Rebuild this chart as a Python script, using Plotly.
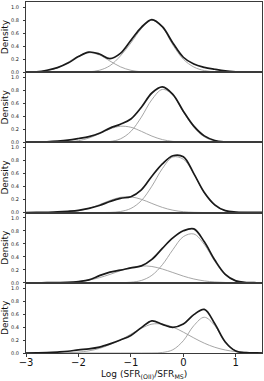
import plotly.graph_objects as go
from plotly.subplots import make_subplots

X = [-3.0, -2.8, -2.6, -2.4, -2.2, -2.0, -1.8, -1.6, -1.4, -1.2, -1.0, -0.8,
     -0.6, -0.4, -0.2, 0.0, 0.2, 0.4, 0.6, 0.8, 1.0, 1.2, 1.4, 1.5]

black1 = [0.0, .006, .03, .07, .14, .24, .31, .28, .21, .29, .49, .69, .81, .70, .45, .23, .125, .075, .045, .02, .007, .001, 0, 0]
greyA1 = [.001, .005, .023, .068, .152, .249, .30, .265, .172, .083, .029, .007, .002, 0, 0, 0, 0, 0, 0, 0, 0, 0, 0, 0]
greyB1 = [0, 0, 0, 0, 0, .001, .006, .03, .10, .25, .45, .67, .80, .69, .42, .20, .08, .025, .006, .001, 0, 0, 0, 0]

black2 = [0, .004, .01, .02, .035, .06, .09, .14, .22, .28, .36, .54, .76, .855, .74, .48, .25, .10, .03, .008, .002, 0, 0, 0]
greyA2 = [0, 0, 0, .002, .008, .026, .067, .133, .206, .248, .233, .170, .097, .043, .015, .004, .001, 0, 0, 0, 0, 0, 0, 0]
greyB2 = [0, 0, 0, 0, 0, 0, 0, .002, .013, .054, .169, .389, .658, .815, .73, .47, .235, .085, .022, .005, .001, 0, 0, 0]

black3 = [0, .002, .005, .01, .02, .035, .065, .11, .17, .22, .245, .35, .56, .75, .875, .86, .60, .31, .12, .03, .008, .005, .004, .004]
greyA3 = [0, 0, .001, .003, .010, .028, .065, .122, .187, .235, .242, .204, .141, .080, .037, .014, .004, .001, 0, 0, 0, 0, 0, 0]
greyB3 = [0, 0, 0, 0, 0, 0, 0, 0, .003, .017, .064, .185, .406, .677, .855, .821, .598, .30, .11, .03, .008, .002, 0, 0]

black4 = [0, 0, .002, .004, .008, .02, .045, .11, .165, .195, .23, .26, .36, .53, .69, .80, .83, .63, .35, .13, .03, .005, .001, 0]
greyA4 = [0, 0, .001, .003, .008, .020, .042, .079, .129, .186, .235, .259, .251, .212, .158, .103, .059, .029, .013, .005, .002, 0, 0, 0]
greyB4 = [0, 0, 0, 0, 0, 0, 0, 0, 0, .002, .009, .036, .115, .278, .509, .71, .751, .59, .33, .12, .03, .005, .001, 0]

black5 = [0, .002, .006, .015, .027, .048, .063, .09, .14, .20, .27, .39, .495, .44, .395, .445, .59, .67, .45, .17, .03, .005, .001, 0]
greyA5 = [0, 0, 0, .002, .005, .014, .033, .07, .129, .20, .29, .38, .444, .444, .399, .321, .232, .151, .088, .046, .021, .009, .003, .002]
greyB5 = [0, 0, 0, 0, 0, 0, 0, 0, 0, 0, 0, 0, .001, .008, .05, .189, .421, .55, .421, .16, .035, .006, .001, 0]

panels = [
    (black1, greyA1, greyB1),
    (black2, greyA2, greyB2),
    (black3, greyA3, greyB3),
    (black4, greyA4, greyB4),
    (black5, greyA5, greyB5),
]

Y_TICKS = [0.0, 0.2, 0.4, 0.6, 0.8, 1.0]
Y_TICKTEXT = ["0.0", "0.2", "0.4", "0.6", "0.8", "1.0"]
X_TICKS = [-3, -2, -1, 0, 1]
X_TITLE = "Log (SFR<sub>(OII)</sub>/SFR<sub>MS</sub>)"

FONT = "DejaVu Sans"
GREY = "#9c9c9c"
BLACK = "#1a1a1a"
FRAME = "#3a3a3a"

fig = make_subplots(rows=5, cols=1, shared_xaxes=True, vertical_spacing=0)

for i, (blk, ga, gb) in enumerate(panels, start=1):
    for g in (ga, gb):
        fig.add_trace(go.Scatter(x=X, y=g, mode="lines",
                                 line=dict(color=GREY, width=0.9, shape="spline"),
                                 showlegend=False, hoverinfo="skip"), row=i, col=1)
    fig.add_trace(go.Scatter(x=X, y=blk, mode="lines",
                             line=dict(color=BLACK, width=1.7, shape="spline"),
                             showlegend=False, hoverinfo="skip"), row=i, col=1)
    fig.update_yaxes(range=[0, 1.08], tickvals=Y_TICKS, ticktext=Y_TICKTEXT,
                     ticks="outside", ticklen=2, tickwidth=0.8, tickcolor=FRAME,
                     tickfont=dict(size=5, color="#222", family=FONT),
                     ticklabelstandoff=3,
                     showline=True, linecolor=FRAME, linewidth=1, mirror=True,
                     showgrid=False, zeroline=False,
                     title=dict(text="Density", font=dict(size=9, color="#111", family=FONT),
                                standoff=2),
                     row=i, col=1)
    fig.update_xaxes(range=[-3, 1.5], showline=True, linecolor=FRAME, linewidth=1,
                     mirror=True, showgrid=False, zeroline=False,
                     tickvals=X_TICKS, showticklabels=(i == 5),
                     ticks="outside" if i == 5 else "", ticklen=3, tickcolor=FRAME,
                     tickfont=dict(size=10, color="#111", family=FONT),
                     ticklabelstandoff=-3,
                     row=i, col=1)

fig.add_annotation(text=X_TITLE, xref="paper", yref="paper", x=0.5, y=-(374 - 353) / 351,
                   xanchor="center", yanchor="middle", showarrow=False,
                   font=dict(size=9, color="#111", family=FONT))

fig.update_layout(width=264, height=381, margin=dict(l=26, r=2, t=2, b=28),
                  paper_bgcolor="white", plot_bgcolor="white",
                  font=dict(family=FONT), hovermode=False)

fig.write_html("out.html", config={"displayModeBar": False},
               post_script="document.body.style.margin='0';document.body.style.padding='0';")
